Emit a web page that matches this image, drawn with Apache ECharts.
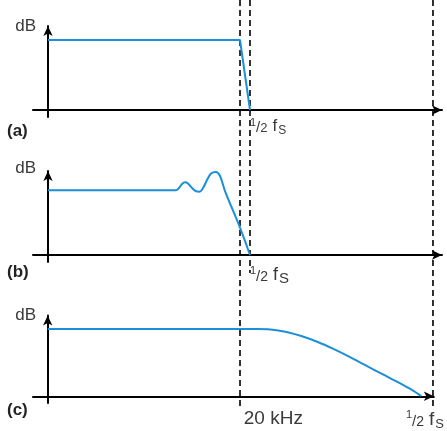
<!DOCTYPE html>
<html><head><meta charset="utf-8">
<script src="https://cdn.jsdelivr.net/npm/echarts@6/dist/echarts.min.js"></script>
<style>html,body{margin:0;padding:0;background:#fff}#c{width:447px;height:431px}</style>
</head><body><div id="c"></div>
<script>
// frequency axis in kHz-like units, level axis in relative dB units
const f20k = 20;          // 20 kHz
const fHalfAB = 21.04;    // 1/2 fs for panels (a),(b)
const fHalfC = 40.1;      // 1/2 fs for panel (c) (oversampled)

const responseA = [[0, 1], [20, 1], [21.04, 0]];
const responseB = [[0, 0.924], [13.33, 0.924], [13.65, 0.957], [13.96, 1.014], [14.27, 1.039], [14.58, 1.021],
  [15.0, 0.957], [15.42, 0.91], [15.78, 0.904], [16.15, 0.957], [16.56, 1.071], [16.98, 1.164], [17.5, 1.186],
  [17.92, 1.129], [18.44, 0.914], [20, 0.39], [21.04, 0]];
const responseC = [[0, 1], [21, 1], [22.3, 1], [23.4, 0.994], [24.5, 0.976], [25.6, 0.948], [26.95, 0.895],
  [28.65, 0.81], [30.42, 0.7], [32.08, 0.585], [33.85, 0.455], [35.63, 0.325], [37.37, 0.198],
  [38.75, 0.09], [39.72, 0]];

const panelNames = ['(a)', '(b)', '(c)'];
const yName = 'dB';
const labelHalfFs = '1/2 fS';
const label20k = '20 kHz';
// dashed guide lines: frequency, vertical extent (page px)
const guideFreqs = [20, 21.04, 40.1];
const guideEnds = [408, 273, 408];

const BLUE = '#1b8fd8';
const TXT = '#3a3a3a';
const FONT = '"Liberation Sans", Arial, sans-serif';
const xMin = -1.5625, xMax = 41.04;

const grids = [
  { left: 33, right: 5, top: 26, height: 91 },
  { left: 33, right: 5, top: 171, height: 91 },
  { left: 33, right: 5, top: 315.5, height: 91 },
  { left: 33, right: 5, top: 0, height: 431 }
];

function fsRich(fsz, Ssz, dsz) {
  return {
    n: { fontFamily: FONT, fontSize: 11, lineHeight: 11, verticalAlign: 'top', color: TXT },
    sl: { fontFamily: FONT, fontSize: 15, lineHeight: 15, verticalAlign: 'bottom', color: TXT },
    d: { fontFamily: FONT, fontSize: dsz, lineHeight: dsz, verticalAlign: 'bottom', color: TXT },
    f: { fontFamily: FONT, fontSize: fsz, lineHeight: fsz + 1, verticalAlign: 'bottom', color: TXT, padding: [0, 1, 0, 5] },
    S: { fontFamily: FONT, fontSize: Ssz, lineHeight: Ssz, verticalAlign: 'bottom', color: TXT, padding: [0, 0, -2, 0] },
    k: { fontFamily: FONT, fontSize: 19, lineHeight: 19, color: TXT, padding: [0, 0, 0, 75] }
  };
}
function fsText() {
  const s = labelHalfFs; // '1/2 fS'
  return '{n|' + s[0] + '}{sl|' + s[1] + '}{d|' + s[2] + '}{f|' + s[4] + '}{S|' + s[5] + '}';
}

function xAxis(i, labelValues, formatter, rich, align, margin) {
  return {
    type: 'value', gridIndex: i, min: xMin, max: xMax,
    axisLine: { show: true, onZero: true, symbol: ['none', 'arrow'], symbolSize: [7, 10],
      lineStyle: { color: '#000', width: 2 } },
    axisTick: { show: false }, splitLine: { show: false },
    axisLabel: { show: true, customValues: labelValues, formatter: formatter, rich: rich,
      align: align, margin: margin }
  };
}
function yAxis(i) {
  return {
    type: 'value', gridIndex: i, min: -0.1, max: 1.2,
    axisLine: { show: true, onZero: true, symbol: ['none', 'arrow'], symbolSize: [7, 10],
      lineStyle: { color: '#000', width: 2 } },
    axisTick: { show: false }, axisLabel: { show: false }, splitLine: { show: false }
  };
}

const xAxes = [
  xAxis(0, [fHalfAB], () => fsText(), fsRich(17, 12, 13), 'left', 0),
  xAxis(1, [fHalfAB], () => fsText(), fsRich(18, 15, 14), 'left', 3),
  xAxis(2, [f20k, fHalfC], v => (Math.abs(v - f20k) < 0.01 ? '{k|' + label20k + '}' : fsText()),
    fsRich(19, 13, 14), 'center', 6),
  { type: 'value', gridIndex: 3, min: xMin, max: xMax, show: false }
];
const yAxes = [yAxis(0), yAxis(1), yAxis(2),
  { type: 'value', gridIndex: 3, min: 0, max: 431, inverse: true, show: false }];

const lineSeries = (i, data, smooth) => ({
  type: 'line', xAxisIndex: i, yAxisIndex: i, data: data, smooth: smooth, showSymbol: false,
  clip: false, silent: true, z: 5, lineStyle: { color: BLUE, width: 2 }
});

const series = [
  lineSeries(0, responseA, false),
  lineSeries(1, responseB, 0.35),
  lineSeries(2, responseC, 0.3)
];
guideFreqs.forEach((f, k) => {
  series.push({
    type: 'line', xAxisIndex: 3, yAxisIndex: 3, data: [[f, 0], [f, guideEnds[k]]],
    showSymbol: false, silent: true, z: 1,
    lineStyle: { color: '#000', width: 1.6, type: [6, 4] }
  });
});

const yNameCenters = [26.5, 168, 315];
const panelCenters = [131, 272, 410.5];
const graphic = [];
yNameCenters.forEach(y => graphic.push({ type: 'text', x: 36, y: y,
  style: { text: yName, font: '17px ' + FONT, fill: TXT, align: 'right', verticalAlign: 'middle' } }));
panelNames.forEach((t, k) => graphic.push({ type: 'text', x: 7, y: panelCenters[k],
  style: { text: t, font: 'bold 17px ' + FONT, fill: '#222', align: 'left', verticalAlign: 'middle' } }));

const chart = echarts.init(document.getElementById('c'), null, { renderer: 'canvas' });
chart.setOption({
  animation: false,
  backgroundColor: '#fff',
  grid: grids,
  xAxis: xAxes,
  yAxis: yAxes,
  series: series,
  graphic: graphic
});
</script></body></html>
